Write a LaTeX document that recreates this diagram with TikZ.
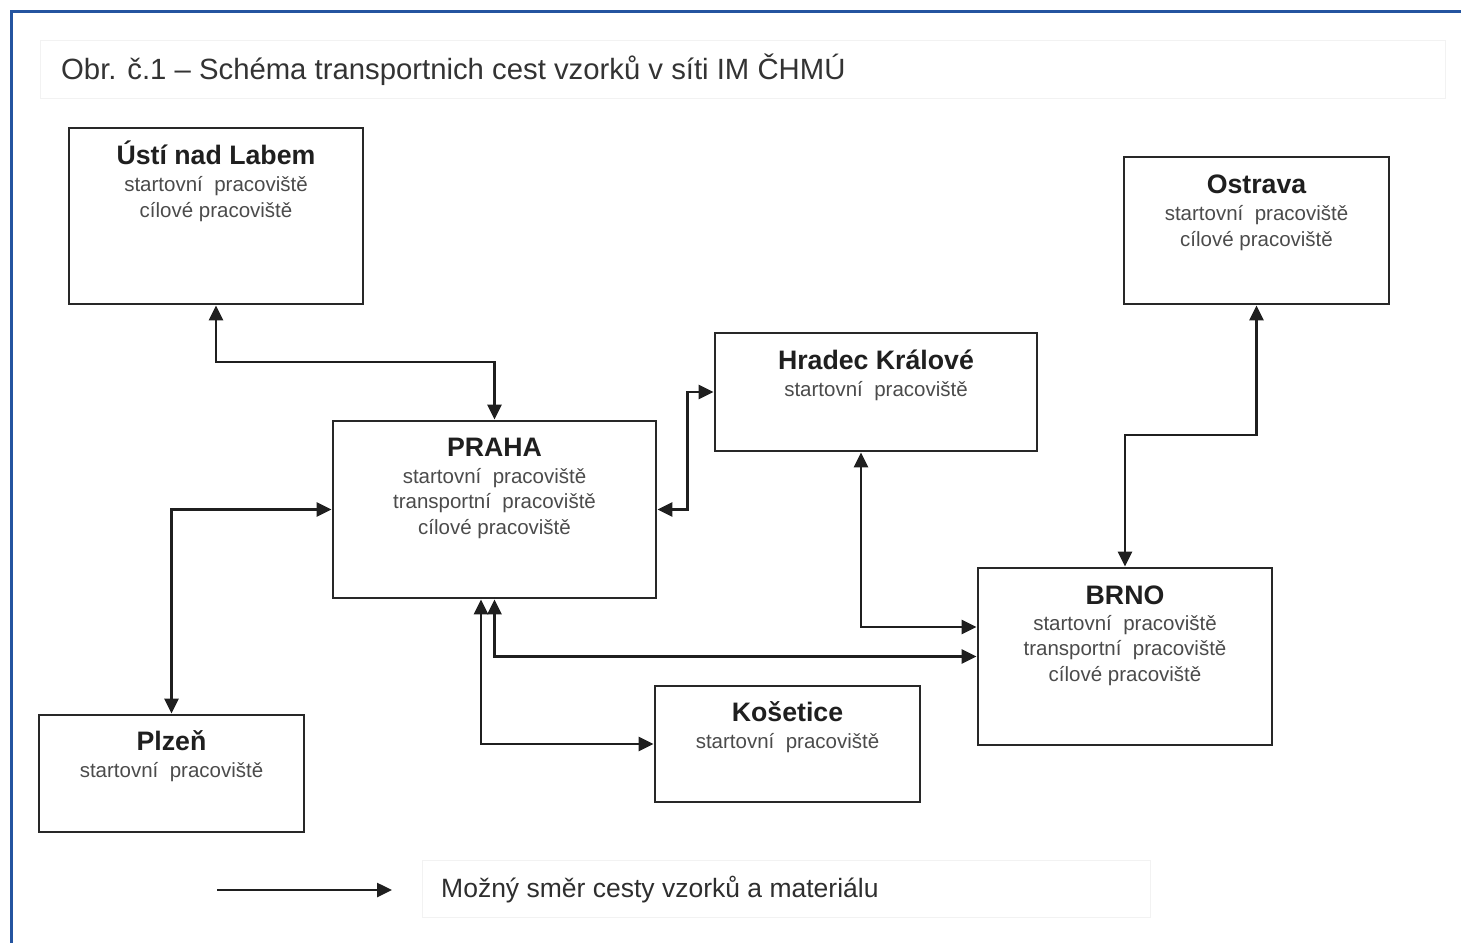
\documentclass[tikz,border=0pt]{standalone}
\usepackage{fontspec}
\setmainfont{Liberation Sans}
\usetikzlibrary{arrows.meta,calc}
\definecolor{frameblue}{RGB}{36,84,160}
\definecolor{boxline}{RGB}{40,40,40}
\definecolor{subgray}{RGB}{75,75,75}
\tikzset{
  citybox/.style={draw=boxline, line width=2.8pt, fill=white, rectangle, inner sep=0pt},
  ttl/.style={font=\fontsize{26.7}{30}\selectfont\bfseries, text=black!88, anchor=base, inner sep=0pt},
  sub/.style={font=\fontsize{20.5}{25.7}\selectfont, text=subgray, anchor=base, inner sep=0pt},
  conn/.style={line width=2.6pt, draw=black!88, arrows={Triangle[length=15pt,width=14pt]-Triangle[length=15pt,width=14pt]}},
  oneway/.style={line width=2.6pt, draw=black!88, arrows={-Triangle[length=15pt,width=14pt]}},
  faint/.style={draw=black!5, line width=1pt}
}
\begin{document}
\begin{tikzpicture}[x=1pt,y=-1pt]
\useasboundingbox (0,0) rectangle (1461,943);
% frame
\draw[frameblue, line width=3pt] (10,11) -- (1461,11);
\draw[frameblue, line width=3pt] (11,10) -- (11,943);
% title
\draw[faint] (40,40) rectangle (1445,98);
\node[font=\fontsize{29.3}{34}\selectfont, text=black!80, anchor=base west, inner sep=0pt] (title) at (61,79) {Obr. č.1 – Schéma transportnich cest vzorků v síti IM ČHMÚ};
% boxes
\node[citybox, minimum width=294pt, minimum height=176pt] (usti) at (216,216) {};
\node[citybox, minimum width=265pt, minimum height=147pt] (ostrava) at (1256.5,230.5) {};
\node[citybox, minimum width=322pt, minimum height=118pt] (hradec) at (876,392) {};
\node[citybox, minimum width=323pt, minimum height=177pt] (praha) at (494.5,509.5) {};
\node[citybox, minimum width=294pt, minimum height=177pt] (brno) at (1125,656.5) {};
\node[citybox, minimum width=265pt, minimum height=116pt] (kosetice) at (787.5,744) {};
\node[citybox, minimum width=265pt, minimum height=117pt] (plzen) at (171.5,773.5) {};
% texts
\node[ttl] (usti-t) at ([yshift=-38pt]usti.north) {Ústí nad Labem};
\node[sub] (usti-s1) at ([yshift=-64.5pt]usti.north) {startovní\ \ pracoviště};
\node[sub] (usti-s2) at ([yshift=-90.5pt]usti.north) {cílové pracoviště};
\node[ttl] (ostrava-t) at ([yshift=-38pt]ostrava.north) {Ostrava};
\node[sub] (ostrava-s1) at ([yshift=-64.5pt]ostrava.north) {startovní\ \ pracoviště};
\node[sub] (ostrava-s2) at ([yshift=-90.5pt]ostrava.north) {cílové pracoviště};
\node[ttl] (hradec-t) at ([yshift=-38pt]hradec.north) {Hradec Králové};
\node[sub] (hradec-s1) at ([yshift=-64.5pt]hradec.north) {startovní\ \ pracoviště};
\node[ttl] (praha-t) at ([yshift=-37pt]praha.north) {PRAHA};
\node[sub] (praha-s1) at ([yshift=-63.5pt]praha.north) {startovní\ \ pracoviště};
\node[sub] (praha-s2) at ([yshift=-89pt]praha.north) {transportní\ \ pracoviště};
\node[sub] (praha-s3) at ([yshift=-114.5pt]praha.north) {cílové pracoviště};
\node[ttl] (brno-t) at ([yshift=-38pt]brno.north) {BRNO};
\node[sub] (brno-s1) at ([yshift=-63.5pt]brno.north) {startovní\ \ pracoviště};
\node[sub] (brno-s2) at ([yshift=-89pt]brno.north) {transportní\ \ pracoviště};
\node[sub] (brno-s3) at ([yshift=-114.5pt]brno.north) {cílové pracoviště};
\node[ttl] (kosetice-t) at ([yshift=-37pt]kosetice.north) {Košetice};
\node[sub] (kosetice-s1) at ([yshift=-63.5pt]kosetice.north) {startovní\ \ pracoviště};
\node[ttl] (plzen-t) at ([yshift=-37pt]plzen.north) {Plzeň};
\node[sub] (plzen-s1) at ([yshift=-63.5pt]plzen.north) {startovní\ \ pracoviště};
% connectors
\draw[conn] (usti.south) -- (usti.south |- 0,362) -| (praha.north);
\draw[conn] (praha.east) -- ++(30,0) |- (hradec.west);
\draw[conn] (plzen.north) |- (praha.west);
\draw[conn] ([xshift=-13.5pt]praha.south) |- (kosetice.west);
\draw[conn] (praha.south) |- (brno.west);
\draw[conn] ([xshift=-15pt]hradec.south) |- ([yshift=29.5pt]brno.west);
\draw[conn] (ostrava.south) -- (ostrava.south |- 0,435) -| (brno.north);
% legend
\coordinate (la) at (217,890);
\coordinate (lb) at (392,890);
\draw[oneway] (la) -- (lb);
\draw[faint] (422,860) rectangle (1150,917);
\node[font=\fontsize{26.5}{30}\selectfont, text=black!82, anchor=base west, inner sep=0pt] (legend) at (441,897) {Možný\ směr cesty vzorků a materiálu};
\end{tikzpicture}
\end{document}
